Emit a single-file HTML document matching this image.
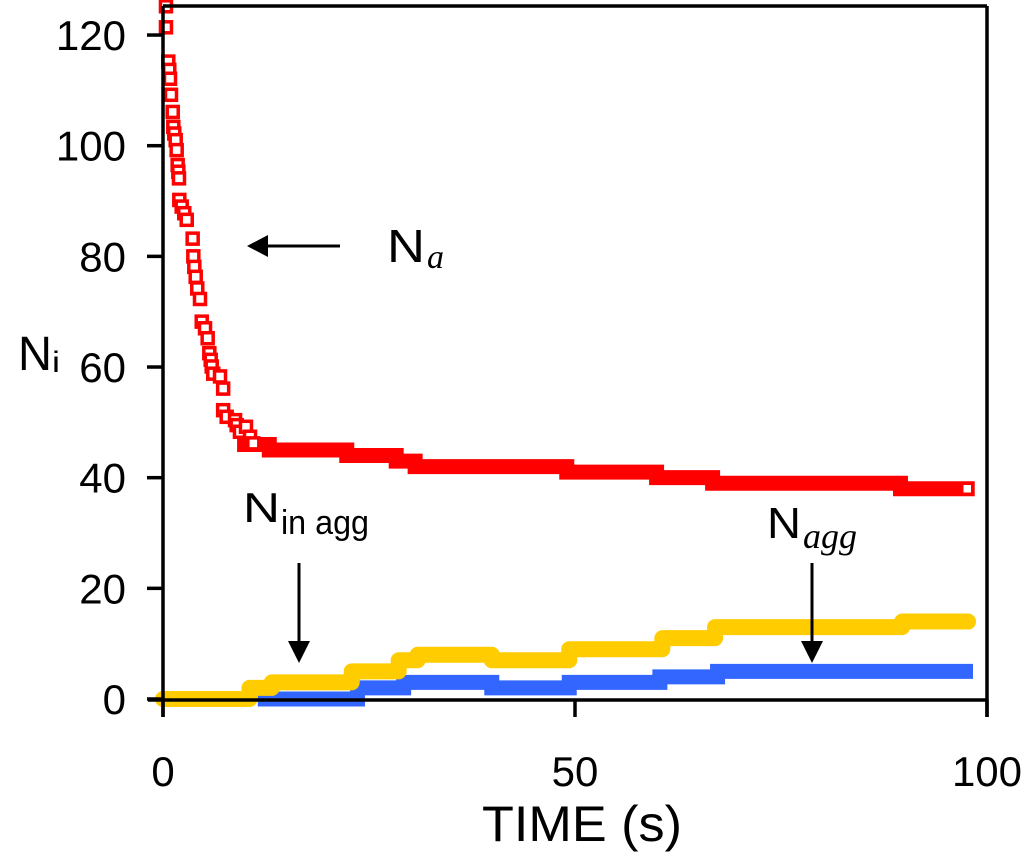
<!DOCTYPE html>
<html><head><meta charset="utf-8"><style>
html,body{margin:0;padding:0;background:#fff;}
svg{display:block;font-family:"Liberation Sans",Arial,sans-serif;}
</style></head><body>
<svg id="chart" width="1024" height="853" viewBox="0 0 1024 853" xmlns="http://www.w3.org/2000/svg">
<g id="series"></g>
<g id="axes"></g>
<g id="annot">
  <text x="18" y="370" font-size="48" textLength="34" lengthAdjust="spacingAndGlyphs">N</text>
  <text x="52" y="372" font-size="30" textLength="8" lengthAdjust="spacingAndGlyphs">i</text>
  <text x="482" y="841" font-size="50" textLength="200" lengthAdjust="spacingAndGlyphs">TIME (s)</text>
  <text x="387" y="262" font-size="46" textLength="38" lengthAdjust="spacingAndGlyphs">N</text>
  <text x="427" y="268" font-size="34" font-style="italic" font-family="Liberation Serif, serif">a</text>
  <line x1="340" y1="246" x2="262" y2="246" stroke="#000" stroke-width="3"/>
  <polygon points="247,246 268,235 268,257" fill="#000"/>
  <text x="243" y="522" font-size="42" textLength="37" lengthAdjust="spacingAndGlyphs">N</text>
  <text x="281" y="534" font-size="34" textLength="88" lengthAdjust="spacingAndGlyphs">in agg</text>
  <line x1="299" y1="563" x2="299" y2="645" stroke="#000" stroke-width="3"/>
  <polygon points="299,663 288,641 310,641" fill="#000"/>
  <text x="767" y="538" font-size="44" textLength="34" lengthAdjust="spacingAndGlyphs">N</text>
  <text x="803" y="548" font-size="36" font-style="italic" font-family="Liberation Serif, serif" textLength="54" lengthAdjust="spacingAndGlyphs">agg</text>
  <line x1="812" y1="563" x2="812" y2="645" stroke="#000" stroke-width="3"/>
  <polygon points="812,663 801,641 823,641" fill="#000"/>
</g>
</svg>
<script>
// ---- data ----
const redScatterT = [0.36,0.36,0.64,0.76,0.85,0.97,1.18,1.25,1.37,1.54,1.66,1.78,1.86,1.94,1.98,2.27,2.58,2.88,3.6,3.68,3.8,3.97,4.16,4.49,4.7,5.1,5.42,5.62,5.79,5.91,6.1,6.92,7.3,7.3,7.73,8.74,8.94,9.34,10.07,10.56,10.96,97.6];
const redScatterV = [125.2,121.4,115.2,113.7,112.1,109.2,106.1,103.4,102.2,101,99.2,96.5,95.3,94.1,90.2,89,87.8,86.6,83.2,80,78.1,76.3,74.2,72.3,68.2,67,65.2,62.5,61.3,60.1,58.8,58.3,56.1,52.2,51,50.4,49.5,48.3,49.2,47.4,46.2,38];
const redStepStart = [9.9,12.9,22.3,28.3,30.6,49,59.9,66.7,89.5];
const redStepEnd   = [12.9,22.3,28.3,30.6,49,59.9,66.7,89.5,97.6];
const redStepV     = [46,45,44,43,42,41,40,39,38];
const yellowTimes  = [0,10.5,13.2,22.9,28.6,30.9,39.9,49.3,60.6,67,89.7,97.7];
const yellowValues = [0,2,3,5,7,8,7,9,11,13,14];
const blueTimes    = [11.5,23.6,29.2,39.9,49.3,60.3,67.3,98.3];
const blueValues   = [0,2,3,2,3,4,5];
const xTicks = [0,50,100];
const xTickLabels = ["0","50","100"];
const yTicks = [0,20,40,60,80,100,120];
const yTickLabels = ["0","20","40","60","80","100","120"];

// ---- scales ----
const X = t => 163 + 8.24*t;
const Y = v => 699 - 5.533*v;
const NS = "http://www.w3.org/2000/svg";
function mk(tag, attrs, parent){
  const e = document.createElementNS(NS, tag);
  for (const k in attrs) e.setAttribute(k, attrs[k]);
  parent.appendChild(e); return e;
}
const S = document.getElementById('series');
const A = document.getElementById('axes');

function stepPath(times, vals){
  let d = 'M' + X(times[0]) + ' ' + Y(vals[0]);
  for (let i=0;i<vals.length;i++){
    d += ' L' + X(times[i+1]) + ' ' + Y(vals[i]);
    if (i+1 < vals.length) d += ' L' + X(times[i+1]) + ' ' + Y(vals[i+1]);
  }
  return d;
}

const bp = mk('path', {d: stepPath(blueTimes, blueValues), fill:'none', stroke:'#3366ff', 'stroke-width':15, 'stroke-linejoin':'miter'}, S);



const yp = mk('path', {d: stepPath(yellowTimes, yellowValues), fill:'none', stroke:'#ffcc00', 'stroke-width':16, 'stroke-linejoin':'round', 'stroke-linecap':'round'}, S);



for (let i=0;i<redStepV.length;i++){
  const l = mk('line', {x1: X(redStepStart[i]), x2: X(redStepEnd[i]), y1: Y(redStepV[i]), y2: Y(redStepV[i]), stroke:'#ff0000', 'stroke-width':15, 'stroke-linecap':'square'}, S);
  
  
}
for (let i=0;i<redScatterT.length;i++){
  const r = mk('rect', {x: X(redScatterT[i])-5.5, y: Y(redScatterV[i])-5.5, width:11, height:11, fill:'#fff', stroke:'#ff0000', 'stroke-width':3.5}, S);
  
  
}

const frame = [[163,6,987,6],[987,6,987,717],[148,700,987,700],[163,6,163,717]];
for (const f of frame){
  const l = mk('line', {x1:f[0], y1:f[1], x2:f[2], y2:f[3], stroke:'#000', 'stroke-width':3.5}, A);
  
  
}
for (let i=0;i<yTicks.length;i++){
  const y = Y(yTicks[i]);
  const l = mk('line', {x1:147, x2:163, y1:y, y2:y, stroke:'#000', 'stroke-width':3.5}, A);
  
  
  const t = mk('text', {x:126, y:y+15, 'font-size':42, 'text-anchor':'end'}, A);
  t.textContent = yTickLabels[i];
  
  
}
for (let i=0;i<xTicks.length;i++){
  const x = X(xTicks[i]);
  const l = mk('line', {x1:x, x2:x, y1:700, y2:717, stroke:'#000', 'stroke-width':3.5}, A);
  
  
  const t = mk('text', {x:x, y:786, 'font-size':42, 'text-anchor':'middle'}, A);
  t.textContent = xTickLabels[i];
  
  
}
</script>
</body></html>
